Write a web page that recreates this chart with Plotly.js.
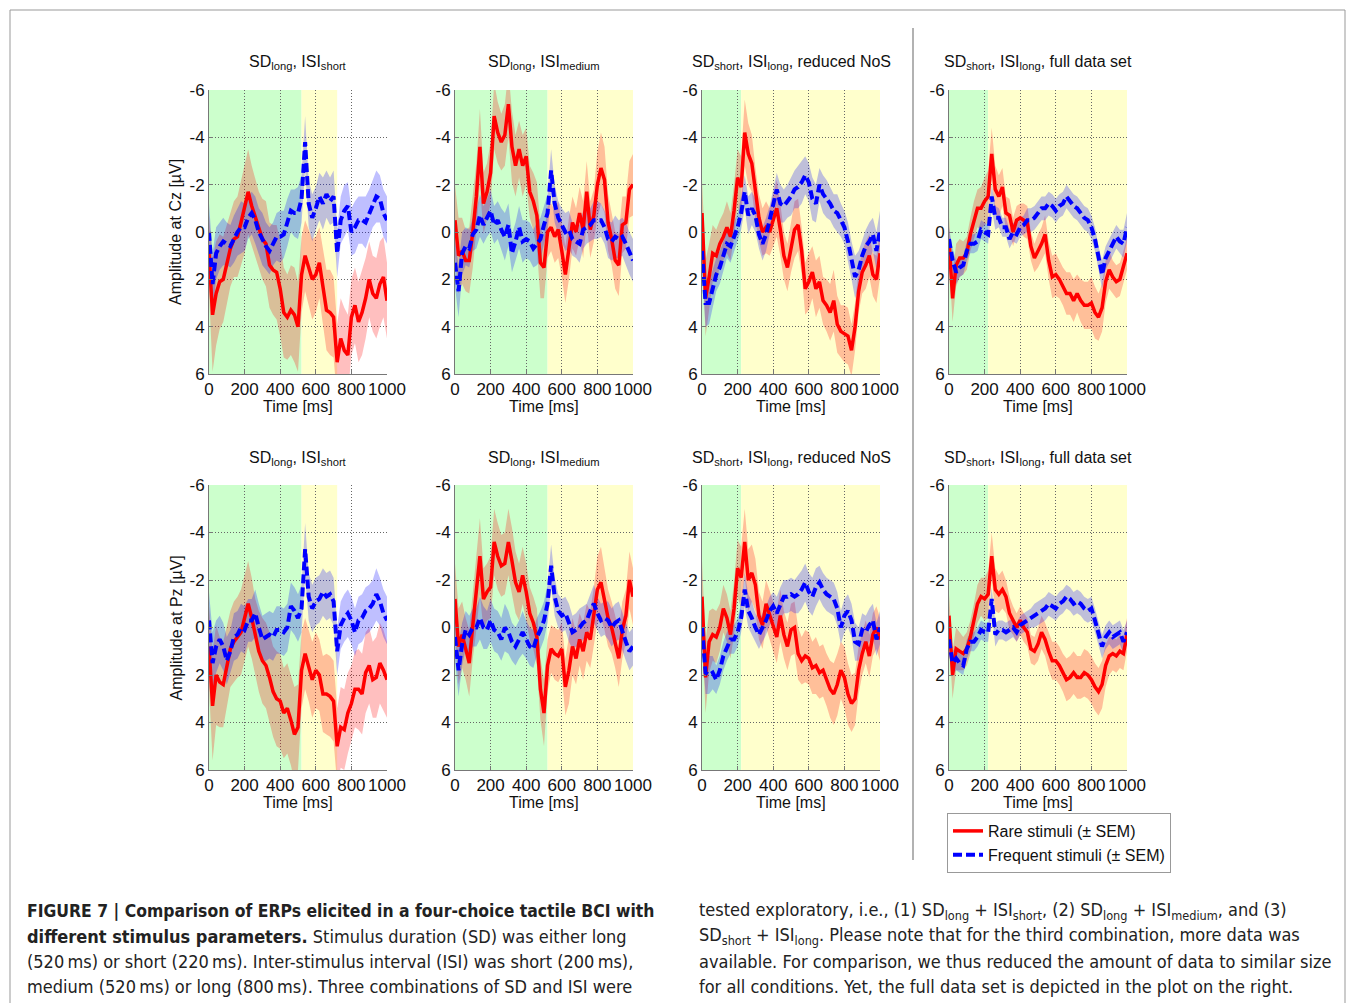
<!DOCTYPE html>
<html><head><meta charset="utf-8">
<script src="https://cdn.plot.ly/plotly-3.0.1.min.js"></script>
<style>body{margin:0;background:#fff}#chart{width:1355px;height:1003px}</style>
</head><body><div id="chart"></div>
<script>
// ---------- data ----------
const time = [0,20,40,60,80,100,120,140,160,180,200,220,240,260,280,300,320,340,360,380,400,420,440,460,480,500,520,540,560,580,600,620,640,660,680,700,720,740,760,780,800,820,840,860,880,900,920,940,960,980,1000];

const panelTitles = [
  "SD<sub>long</sub>, ISI<sub>short</sub>",
  "SD<sub>long</sub>, ISI<sub>medium</sub>",
  "SD<sub>short</sub>, ISI<sub>long</sub>, reduced NoS",
  "SD<sub>short</sub>, ISI<sub>long</sub>, full data set",
  "SD<sub>long</sub>, ISI<sub>short</sub>",
  "SD<sub>long</sub>, ISI<sub>medium</sub>",
  "SD<sub>short</sub>, ISI<sub>long</sub>, reduced NoS",
  "SD<sub>short</sub>, ISI<sub>long</sub>, full data set"
];
const rowYTitles = ["Amplitude at Cz [µV]", "Amplitude at Pz [µV]"];
const xTitle = "Time [ms]";
const stimDuration = [520,520,220,220,520,520,220,220];
const interStimulus = [200,520,800,800,200,520,800,800];
const xTicks = [0,200,400,600,800,1000];
const yTicks = [-6,-4,-2,0,2,4,6];
const legendLabels = ["Rare stimuli (± SEM)", "Frequent stimuli (± SEM)"];

// Cz
const rareCz1 = [0.9,3.5,2.6,2.1,2.0,1.4,0.7,0.3,0.2,-0.4,-1.0,-1.7,-1.1,-0.6,-0.1,0.3,0.5,1.4,1.6,1.7,2.4,3.4,3.6,3.3,3.5,4.0,1.8,1.0,1.5,2.0,1.8,1.3,2.3,3.3,3.4,3.6,5.5,4.5,5.0,5.2,3.6,3.1,3.8,3.4,2.8,2.0,2.6,2.8,2.2,1.9,2.9];
const freqCz1 = [0.0,2.2,0.9,0.6,0.4,0.5,0.6,0.3,0.0,-0.2,-0.2,-0.6,-0.8,-0.5,0.0,0.3,0.6,0.8,0.5,0.2,0.2,0.1,-0.4,-0.9,-0.8,-0.8,-1.4,-3.8,-1.2,-0.6,-1.0,-1.5,-1.2,-1.6,-1.3,-1.5,0.9,-0.5,-0.9,-1.1,0.0,-0.2,-0.5,-0.5,-0.4,-0.8,-1.2,-1.5,-1.4,-0.8,-0.5];
const rareCz2 = [-0.5,1.0,0.8,1.2,1.2,0.0,-1.5,-3.6,-1.2,-1.7,-2.5,-4.9,-4.2,-3.8,-4.1,-5.4,-3.6,-2.8,-3.5,-2.8,-3.2,-1.7,-1.3,-0.7,1.3,1.5,0.0,-0.2,0.2,-0.1,0.8,1.8,0.7,-0.4,0.0,-0.8,-0.1,-1.7,-0.1,-0.7,-2.0,-2.7,-2.2,-0.4,0.3,1.2,1.4,-0.3,-0.4,-1.8,-2.0];
const freqCz2 = [1.3,2.5,0.9,0.6,0.7,0.1,-0.1,-0.7,-0.3,-0.6,-0.9,-0.3,-0.5,-0.1,0.2,-0.3,0.9,0.4,-0.2,0.4,0.3,0.4,0.7,0.5,0.3,-0.3,-0.8,-2.6,-1.2,-0.6,-0.3,0.0,-0.1,0.3,0.4,0.5,-0.1,-0.2,-0.3,-0.5,-0.5,-0.5,-0.2,0.3,0.4,0.2,0.3,0.2,0.5,0.9,1.2];
const rareCz3 = [-0.8,2.8,1.9,0.9,1.0,0.5,0.2,-0.2,0.2,-0.9,-2.3,-1.9,-4.2,-3.3,-2.9,-1.6,-0.6,0.0,-0.2,0.0,-0.5,-1.0,-0.1,1.0,1.5,0.6,-0.1,-0.3,0.8,2.4,2.1,1.7,2.4,2.1,2.9,3.1,3.4,2.9,3.9,4.2,4.3,4.4,5.0,4.0,2.5,1.7,1.4,1.0,1.8,2.0,0.9];
const freqCz3 = [0.8,3.0,3.0,2.4,1.8,1.5,1.0,0.5,0.6,0.2,-0.2,-0.8,-1.7,-0.7,-1.0,-0.7,0.1,0.5,0.1,-0.5,-1.1,-1.8,-1.2,-1.1,-1.3,-1.5,-1.8,-1.9,-2.1,-2.4,-2.1,-1.4,-1.2,-2.0,-1.6,-1.4,-1.2,-0.9,-0.8,-0.5,-0.2,0.4,1.2,1.9,1.6,1.0,0.6,0.4,0.1,0.8,-0.1];
const rareCz4 = [0.3,2.8,1.4,1.1,1.1,0.9,0.1,-0.5,-1.0,-1.0,-1.3,-1.5,-3.3,-1.8,-1.5,-1.9,-0.8,-0.7,0.0,-0.5,-0.6,-0.5,-0.4,0.6,1.1,0.8,0.5,0.1,1.2,1.9,1.8,2.0,2.3,2.6,2.6,2.9,2.6,2.9,3.1,3.1,3.0,3.4,3.6,3.2,2.1,1.6,1.9,2.1,2.0,1.5,0.9];
const freqCz4 = [0.3,1.2,1.7,1.5,1.4,0.8,0.5,0.5,0.4,-0.1,0.0,0.1,-1.5,-0.6,-0.6,-0.2,-0.2,0.3,0.0,0.1,-0.2,-0.3,-0.5,-0.5,-0.6,-0.8,-1.0,-1.0,-1.2,-1.1,-0.9,-1.1,-1.2,-1.5,-1.3,-1.1,-1.0,-0.8,-0.6,-0.5,-0.2,0.3,1.1,1.8,1.1,0.8,0.5,0.2,0.4,0.5,-0.2];
// Pz
const rarePz1 = [0.8,3.3,2.0,2.3,2.4,1.6,0.9,0.6,0.4,0.2,-0.4,-1.0,-0.4,0.4,1.0,1.4,1.6,2.1,2.7,3.0,3.1,3.6,3.4,3.9,4.5,4.2,1.8,1.1,1.6,2.2,1.8,2.0,2.8,2.8,2.9,3.1,5.0,4.2,4.3,3.6,3.2,2.6,2.6,2.8,1.9,1.6,2.2,2.1,1.5,1.8,2.2];
const freqPz1 = [-0.3,1.5,0.8,0.5,0.8,1.4,1.0,0.4,0.3,0.0,0.1,-0.3,-0.3,-0.6,0.0,0.5,0.4,0.3,0.4,0.1,0.1,0.2,0.0,-0.9,-0.7,-0.4,-0.8,-3.3,-1.3,-0.8,-1.1,-1.2,-1.5,-1.3,-1.4,-1.1,1.0,-0.1,-0.4,-0.6,-0.3,0.2,-0.3,-0.4,-0.7,-0.8,-1.0,-1.4,-1.1,-0.6,-0.3];
const rarePz2 = [-1.2,0.8,0.3,0.9,1.5,-0.1,-1.4,-3.0,-1.2,-1.5,-1.7,-3.6,-3.0,-2.6,-2.7,-3.6,-2.8,-1.9,-1.5,-2.2,-1.5,-0.6,-0.2,0.4,2.6,3.6,1.6,0.9,1.1,1.2,0.9,2.5,1.8,0.8,1.3,0.5,1.0,0.2,0.5,-0.5,-1.6,-1.9,-1.2,-0.4,0.0,0.6,1.3,0.1,-0.5,-2.0,-1.3];
const freqPz2 = [0.4,1.8,0.7,0.1,0.3,0.0,0.0,-0.4,0.0,0.1,-0.3,0.1,0.2,0.5,0.0,0.2,0.6,0.8,0.5,0.2,0.5,0.8,0.9,0.4,0.1,-0.3,-1.0,-2.6,-1.3,-0.7,-0.5,-0.6,-0.2,0.2,0.1,0.0,-0.2,-0.3,-0.7,-1.0,-0.6,-0.3,-0.4,-0.3,0.0,-0.2,-0.3,0.2,0.6,1.0,0.8];
const rarePz3 = [-1.3,2.1,0.6,0.3,0.4,0.0,-0.8,-0.4,0.3,-0.8,-2.5,-2.1,-3.6,-2.0,-2.3,-1.8,-0.5,-0.1,-1.0,-0.5,0.0,0.4,-0.5,0.3,0.8,0.1,0.0,1.1,1.4,1.2,1.3,1.7,1.6,1.9,1.8,2.2,2.6,2.8,2.4,1.8,2.1,2.8,3.2,3.0,1.8,1.1,0.6,1.2,0.3,0.0,0.5];
const freqPz3 = [0.0,1.9,2.0,1.9,2.2,1.8,1.2,0.8,0.5,0.5,0.2,-0.4,-1.6,-0.7,-0.4,0.0,0.3,0.0,-0.3,-0.7,-0.9,-0.6,-1.0,-1.3,-1.3,-1.4,-1.3,-1.4,-1.6,-1.9,-1.5,-1.3,-1.7,-1.9,-1.6,-1.4,-1.3,-1.2,-0.8,0.0,-0.5,-0.7,-0.3,0.6,0.7,0.1,0.2,-0.1,-0.3,0.5,0.0];
const rarePz4 = [-0.5,2.0,0.9,1.0,1.1,0.9,0.4,-0.3,-1.0,-1.3,-1.2,-1.4,-3.0,-1.6,-1.4,-1.6,-1.3,-0.6,-0.3,0.0,-0.3,0.0,0.2,0.9,1.0,0.7,0.2,0.5,1.0,1.4,1.4,1.6,1.9,2.2,2.1,1.9,2.1,2.1,1.9,2.0,2.2,2.5,2.7,2.4,1.6,1.2,1.1,1.2,1.0,1.1,0.3];
const freqPz4 = [0.5,1.5,1.3,1.5,1.6,0.9,0.6,0.6,0.4,0.1,0.2,0.2,-1.2,0.3,0.1,0.1,0.2,0.1,0.0,0.2,-0.1,-0.2,-0.3,-0.4,-0.5,-0.6,-0.7,-0.8,-1.0,-0.9,-0.8,-1.0,-1.1,-1.3,-1.2,-1.0,-1.1,-1.0,-0.8,-0.7,-0.8,-0.3,0.3,0.8,0.4,0.2,0.4,0.3,0.2,0.6,0.2];

// SEM half-widths
const rareSemCz1 = [1.6,2.4,2.2,2.0,1.8,1.7,1.6,1.6,1.7,1.8,1.9,1.8,1.7,1.6,1.6,1.7,1.8,1.8,1.9,2.0,2.0,1.9,1.8,1.9,2.0,1.9,1.6,1.5,1.6,1.7,1.6,1.5,1.6,1.7,1.8,1.7,1.6,1.7,1.8,1.7,1.6,1.6,1.7,1.8,1.7,1.6,1.6,1.7,1.8,1.7,1.6];
const freqSemCz1 = [1.2,1.3,1.1,1.0,1.0,0.9,0.9,1.0,1.0,1.1,1.0,0.9,0.9,1.0,1.0,1.1,1.0,1.0,0.9,1.0,1.1,1.0,1.0,0.9,1.0,1.1,1.0,1.1,1.0,1.0,0.9,1.0,1.1,1.0,1.0,1.1,1.0,1.0,1.1,1.0,1.0,1.1,1.0,1.0,1.1,1.0,1.0,1.1,1.0,1.0,1.0];
const rareSemCz2 = [1.5,1.6,1.4,1.3,1.4,1.5,1.4,1.6,1.3,1.2,1.3,1.4,1.3,1.2,1.3,1.4,1.5,1.3,1.2,1.3,1.2,1.1,1.2,1.4,1.5,1.3,1.1,1.0,1.1,1.2,1.1,1.2,1.3,1.1,1.0,1.1,1.2,1.3,1.2,1.1,1.4,1.5,1.4,1.2,1.1,1.2,1.3,1.2,1.1,1.2,1.3];
const freqSemCz2 = [1.0,1.1,0.9,0.8,0.8,0.7,0.8,0.9,0.8,0.8,0.9,0.8,0.8,0.9,1.0,0.9,0.8,0.8,0.9,0.9,0.8,0.8,0.8,0.9,0.9,0.8,0.8,0.9,0.8,0.7,0.7,0.8,0.8,0.7,0.7,0.8,0.8,0.7,0.7,0.8,0.8,0.7,0.7,0.8,0.8,0.9,0.8,0.8,0.9,0.9,0.9];
const rareSemCz3 = [1.4,1.6,1.4,1.2,1.1,1.0,1.0,1.1,1.0,1.1,1.2,1.3,1.4,1.3,1.2,1.1,1.0,1.0,1.1,1.0,1.1,1.2,1.1,1.0,1.0,1.1,1.2,1.1,1.0,1.1,1.2,1.1,1.2,1.1,1.0,1.1,1.2,1.3,1.2,1.1,1.2,1.2,1.1,1.0,0.9,0.9,1.0,0.9,0.9,1.0,1.0];
const freqSemCz3 = [0.9,1.0,0.9,0.8,0.7,0.7,0.6,0.6,0.7,0.6,0.6,0.7,0.7,0.8,0.7,0.7,0.6,0.7,0.7,0.6,0.7,0.7,0.8,0.7,0.7,0.8,0.8,0.9,0.9,0.8,0.8,0.9,0.8,0.7,0.8,0.8,0.7,0.7,0.8,0.7,0.7,0.8,0.8,0.9,0.8,0.7,0.7,0.8,0.7,0.8,0.8];
const rareSemCz4 = [0.9,1.0,0.9,0.8,0.7,0.7,0.7,0.8,0.8,0.9,1.0,1.1,1.1,1.0,0.9,0.8,0.7,0.7,0.6,0.6,0.6,0.7,0.7,0.6,0.6,0.7,0.7,0.8,0.8,0.9,0.9,0.8,0.8,0.9,0.9,0.9,0.8,0.9,1.0,1.0,1.1,1.1,1.0,1.0,0.9,0.8,0.7,0.7,0.7,0.7,0.7];
const freqSemCz4 = [0.5,0.5,0.5,0.4,0.4,0.4,0.4,0.4,0.4,0.4,0.4,0.4,0.5,0.5,0.4,0.4,0.4,0.4,0.4,0.4,0.4,0.4,0.5,0.5,0.5,0.5,0.5,0.5,0.5,0.5,0.5,0.5,0.5,0.5,0.5,0.5,0.5,0.5,0.5,0.5,0.5,0.5,0.5,0.6,0.5,0.5,0.5,0.5,0.5,0.6,0.6];
const rareSemPz1 = [1.7,2.3,2.1,1.9,1.8,1.7,1.6,1.7,1.7,1.8,1.8,1.8,1.7,1.6,1.7,1.8,1.8,1.9,1.9,2.0,2.0,1.9,1.9,1.9,2.0,1.8,1.6,1.5,1.5,1.6,1.6,1.5,1.6,1.7,1.7,1.7,1.6,1.7,1.7,1.7,1.6,1.6,1.7,1.7,1.7,1.6,1.6,1.7,1.7,1.7,1.6];
const freqSemPz1 = [1.2,1.3,1.1,1.0,1.0,1.0,0.9,1.0,1.0,1.0,1.0,0.9,0.9,1.0,1.0,1.0,1.0,1.0,1.0,1.0,1.0,1.0,1.0,1.0,1.0,1.0,1.0,1.1,1.0,1.0,1.0,1.0,1.0,1.0,1.0,1.0,1.0,1.0,1.0,1.0,1.0,1.0,1.0,1.0,1.0,1.0,1.0,1.1,1.0,1.0,1.0];
const rareSemPz2 = [1.5,1.6,1.4,1.3,1.4,1.4,1.5,1.6,1.3,1.2,1.3,1.4,1.4,1.3,1.3,1.4,1.4,1.3,1.2,1.2,1.2,1.1,1.1,1.2,1.3,1.4,1.1,1.0,1.1,1.1,1.1,1.2,1.4,1.2,1.1,1.1,1.2,1.2,1.2,1.2,1.4,1.5,1.3,1.2,1.1,1.1,1.2,1.2,1.1,1.2,1.2];
const freqSemPz2 = [1.0,1.1,0.9,0.8,0.8,0.8,0.8,0.9,0.9,0.8,0.9,0.9,0.9,0.9,1.0,0.9,0.8,0.8,0.8,0.9,0.8,0.8,0.8,0.8,0.8,0.8,0.8,0.9,0.8,0.7,0.7,0.7,0.8,0.7,0.7,0.8,0.7,0.7,0.7,0.8,0.7,0.7,0.7,0.8,0.8,0.8,0.8,0.8,0.8,0.8,0.8];
const rareSemPz3 = [1.5,1.5,1.3,1.1,1.1,1.0,1.0,1.0,1.0,1.1,1.2,1.3,1.4,1.3,1.2,1.1,1.0,1.0,1.0,1.0,1.1,1.1,1.1,1.0,1.0,1.1,1.1,1.1,1.0,1.1,1.1,1.1,1.2,1.1,1.1,1.1,1.2,1.3,1.3,1.2,1.3,1.3,1.2,1.1,1.0,0.9,0.9,0.9,0.9,0.9,0.9];
const freqSemPz3 = [0.8,0.9,0.8,0.7,0.6,0.6,0.6,0.6,0.6,0.6,0.6,0.6,0.7,0.7,0.7,0.6,0.6,0.6,0.6,0.6,0.6,0.7,0.7,0.7,0.7,0.7,0.7,0.8,0.8,0.8,0.8,0.8,0.8,0.7,0.7,0.7,0.7,0.7,0.7,0.7,0.7,0.7,0.7,0.8,0.7,0.7,0.7,0.7,0.7,0.7,0.7];
const rareSemPz4 = [0.9,1.0,0.9,0.8,0.7,0.7,0.7,0.7,0.8,0.8,0.9,1.0,1.0,0.9,0.8,0.8,0.7,0.7,0.6,0.6,0.6,0.6,0.6,0.6,0.6,0.7,0.7,0.7,0.8,0.8,0.8,0.8,0.8,0.9,0.9,0.9,0.9,0.9,1.0,1.0,1.0,1.0,1.0,1.0,0.9,0.8,0.7,0.7,0.7,0.7,0.7];
const freqSemPz4 = [0.5,0.5,0.5,0.4,0.4,0.4,0.4,0.4,0.4,0.4,0.4,0.4,0.5,0.5,0.4,0.4,0.4,0.4,0.4,0.4,0.4,0.4,0.4,0.4,0.5,0.5,0.5,0.5,0.5,0.5,0.5,0.5,0.5,0.5,0.5,0.5,0.5,0.5,0.5,0.5,0.5,0.5,0.5,0.5,0.5,0.5,0.5,0.5,0.5,0.5,0.5];

const captionLeft = [
  "<b>FIGURE 7 | Comparison of ERPs elicited in a four-choice tactile BCI with</b>",
  "<b>different stimulus parameters.</b> Stimulus duration (SD) was either long",
  "(520\u2009ms) or short (220\u2009ms). Inter-stimulus interval (ISI) was short (200\u2009ms),",
  "medium (520\u2009ms) or long (800\u2009ms). Three combinations of SD and ISI were"
];
const captionRight = [
  "tested exploratory, i.e., (1) SD<sub>long</sub> + ISI<sub>short</sub>, (2) SD<sub>long</sub> + ISI<sub>medium</sub>, and (3)",
  "SD<sub>short</sub> + ISI<sub>long</sub>. Please note that for the third combination, more data was",
  "available. For comparison, we thus reduced the amount of data to similar size",
  "for all conditions. Yet, the full data set is depicted in the plot on the right."
];

// ---------- assembly ----------
const rareSeries = [rareCz1,rareCz2,rareCz3,rareCz4,rarePz1,rarePz2,rarePz3,rarePz4];
const freqSeries = [freqCz1,freqCz2,freqCz3,freqCz4,freqPz1,freqPz2,freqPz3,freqPz4];
const rareSems = [rareSemCz1,rareSemCz2,rareSemCz3,rareSemCz4,rareSemPz1,rareSemPz2,rareSemPz3,rareSemPz4];
const freqSems = [freqSemCz1,freqSemCz2,freqSemCz3,freqSemCz4,freqSemPz1,freqSemPz2,freqSemPz3,freqSemPz4];

const W = 1355, H = 1003;
const colPx = [[209,387],[455,633],[702,880],[949,1127]];
const rowPx = [[90,374],[485,770]];
const XMAX = 1000;
const FONT = "Liberation Sans, Arial, sans-serif";
const CAPFONT = "Liberation Sans Narrow, DejaVu Sans Condensed, Arial Narrow, sans-serif";

const traces = [];
const layout = {
  width: W, height: H,
  margin: {l:0, r:0, t:0, b:0},
  paper_bgcolor: "#fff", plot_bgcolor: "rgba(0,0,0,0)",
  showlegend: true,
  legend: {
    x: 947/W, y: 1 - 813/H, xanchor: "left", yanchor: "top",
    bgcolor: "#fff", bordercolor: "#999", borderwidth: 1,
    font: {family: FONT, size: 16, color: "#111"},
    itemwidth: 30, tracegroupgap: 0, traceorder: "normal"
  },
  shapes: [], annotations: []
};

for (let i = 0; i < 8; i++) {
  const r = Math.floor(i / 4), c = i % 4;
  const n = i + 1;
  const xa = "x" + (n === 1 ? "" : n), ya = "y" + (n === 1 ? "" : n);
  const xKey = "xaxis" + (n === 1 ? "" : n), yKey = "yaxis" + (n === 1 ? "" : n);
  const axCommon = {
    showgrid: true, gridcolor: "#666", griddash: "1px,2px", gridwidth: 1,
    showline: true, linecolor: "#777", linewidth: 1,
    ticks: "inside", ticklen: 4, tickcolor: "#777",
    tickfont: {family: FONT, size: 17, color: "#111"},
    zeroline: false, fixedrange: true
  };
  layout[xKey] = Object.assign({}, axCommon, {
    domain: [colPx[c][0]/W, colPx[c][1]/W], anchor: ya,
    range: [0, XMAX], tickvals: xTicks, ticktext: xTicks.map(String)
  });
  layout[yKey] = Object.assign({}, axCommon, {
    domain: [1 - rowPx[r][1]/H, 1 - rowPx[r][0]/H], anchor: xa,
    range: [6, -6], tickvals: yTicks, ticktext: yTicks.map(String)
  });

  // stimulus / ISI shading
  const sd = stimDuration[i], isi = interStimulus[i];
  layout.shapes.push({type:"rect", xref:xa, yref:ya+" domain", x0:0, x1:Math.min(sd, XMAX), y0:0, y1:1,
    fillcolor:"rgb(204,255,204)", line:{width:0}, layer:"below"});
  layout.shapes.push({type:"rect", xref:xa, yref:ya+" domain", x0:sd, x1:Math.min(sd+isi, XMAX), y0:0, y1:1,
    fillcolor:"rgb(255,255,204)", line:{width:0}, layer:"below"});

  // SEM bands
  const band = (mean, sem, col) => {
    const up = mean.map((v,k)=>v - sem[k]);
    const lo = mean.map((v,k)=>v + sem[k]);
    traces.push({x:time, y:up, xaxis:xa, yaxis:ya, mode:"lines", line:{width:0}, showlegend:false, hoverinfo:"skip"});
    traces.push({x:time, y:lo, xaxis:xa, yaxis:ya, mode:"lines", line:{width:0}, fill:"tonexty", fillcolor:col, showlegend:false, hoverinfo:"skip"});
  };
  band(rareSeries[i], rareSems[i], "rgba(255,0,0,0.25)");
  band(freqSeries[i], freqSems[i], "rgba(0,0,255,0.25)");

  traces.push({x:time, y:rareSeries[i], xaxis:xa, yaxis:ya, mode:"lines",
    line:{color:"rgb(255,0,0)", width:3.5}, name:legendLabels[0], showlegend:i===0});
  traces.push({x:time, y:freqSeries[i], xaxis:xa, yaxis:ya, mode:"lines",
    line:{color:"rgb(0,0,255)", width:4, dash:"9px,4px"}, name:legendLabels[1], showlegend:i===0});

  const cx = (colPx[c][0] + colPx[c][1]) / 2;
  layout.annotations.push({xref:"paper", yref:"paper", x:cx/W, y:1 - (rowPx[r][0]-27)/H,
    text:panelTitles[i], showarrow:false, xanchor:"center", yanchor:"middle",
    font:{family:FONT, size:16, color:"#111"}});
  layout.annotations.push({xref:"paper", yref:"paper", x:cx/W, y:1 - (rowPx[r][1]+32)/H,
    text:xTitle, showarrow:false, xanchor:"center", yanchor:"middle",
    font:{family:FONT, size:16, color:"#111"}});
}
for (let r = 0; r < 2; r++) {
  layout.annotations.push({xref:"paper", yref:"paper", x:176/W, y:1 - ((rowPx[r][0]+rowPx[r][1])/2)/H,
    text:rowYTitles[r], textangle:-90, showarrow:false, xanchor:"center", yanchor:"middle",
    font:{family:FONT, size:16, color:"#111"}});
}
// separator and frame
layout.shapes.push({type:"line", xref:"paper", yref:"paper", x0:913/W, x1:913/W, y0:1-28/H, y1:1-860/H,
  line:{color:"#999", width:1.5}});
layout.shapes.push({type:"rect", xref:"paper", yref:"paper", x0:10/W, x1:1345/W, y0:1-10/H, y1:-0.02,
  line:{color:"#999", width:1}, fillcolor:"rgba(0,0,0,0)"});

// caption
const capY = [911, 936, 961, 986];
captionLeft.forEach((t,k)=>layout.annotations.push({xref:"paper", yref:"paper", x:25/W, y:1-capY[k]/H,
  text:t, showarrow:false, xanchor:"left", yanchor:"middle", align:"left",
  font:{family:CAPFONT, size:(k===0?17.4:18), color:"#222"}}));
captionRight.forEach((t,k)=>layout.annotations.push({xref:"paper", yref:"paper", x:697/W, y:1-capY[k]/H,
  text:t, showarrow:false, xanchor:"left", yanchor:"middle", align:"left",
  font:{family:CAPFONT, size:18, color:"#222"}}));

Plotly.newPlot("chart", traces, layout, {displayModeBar:false, staticPlot:true});
</script>
</body></html>
